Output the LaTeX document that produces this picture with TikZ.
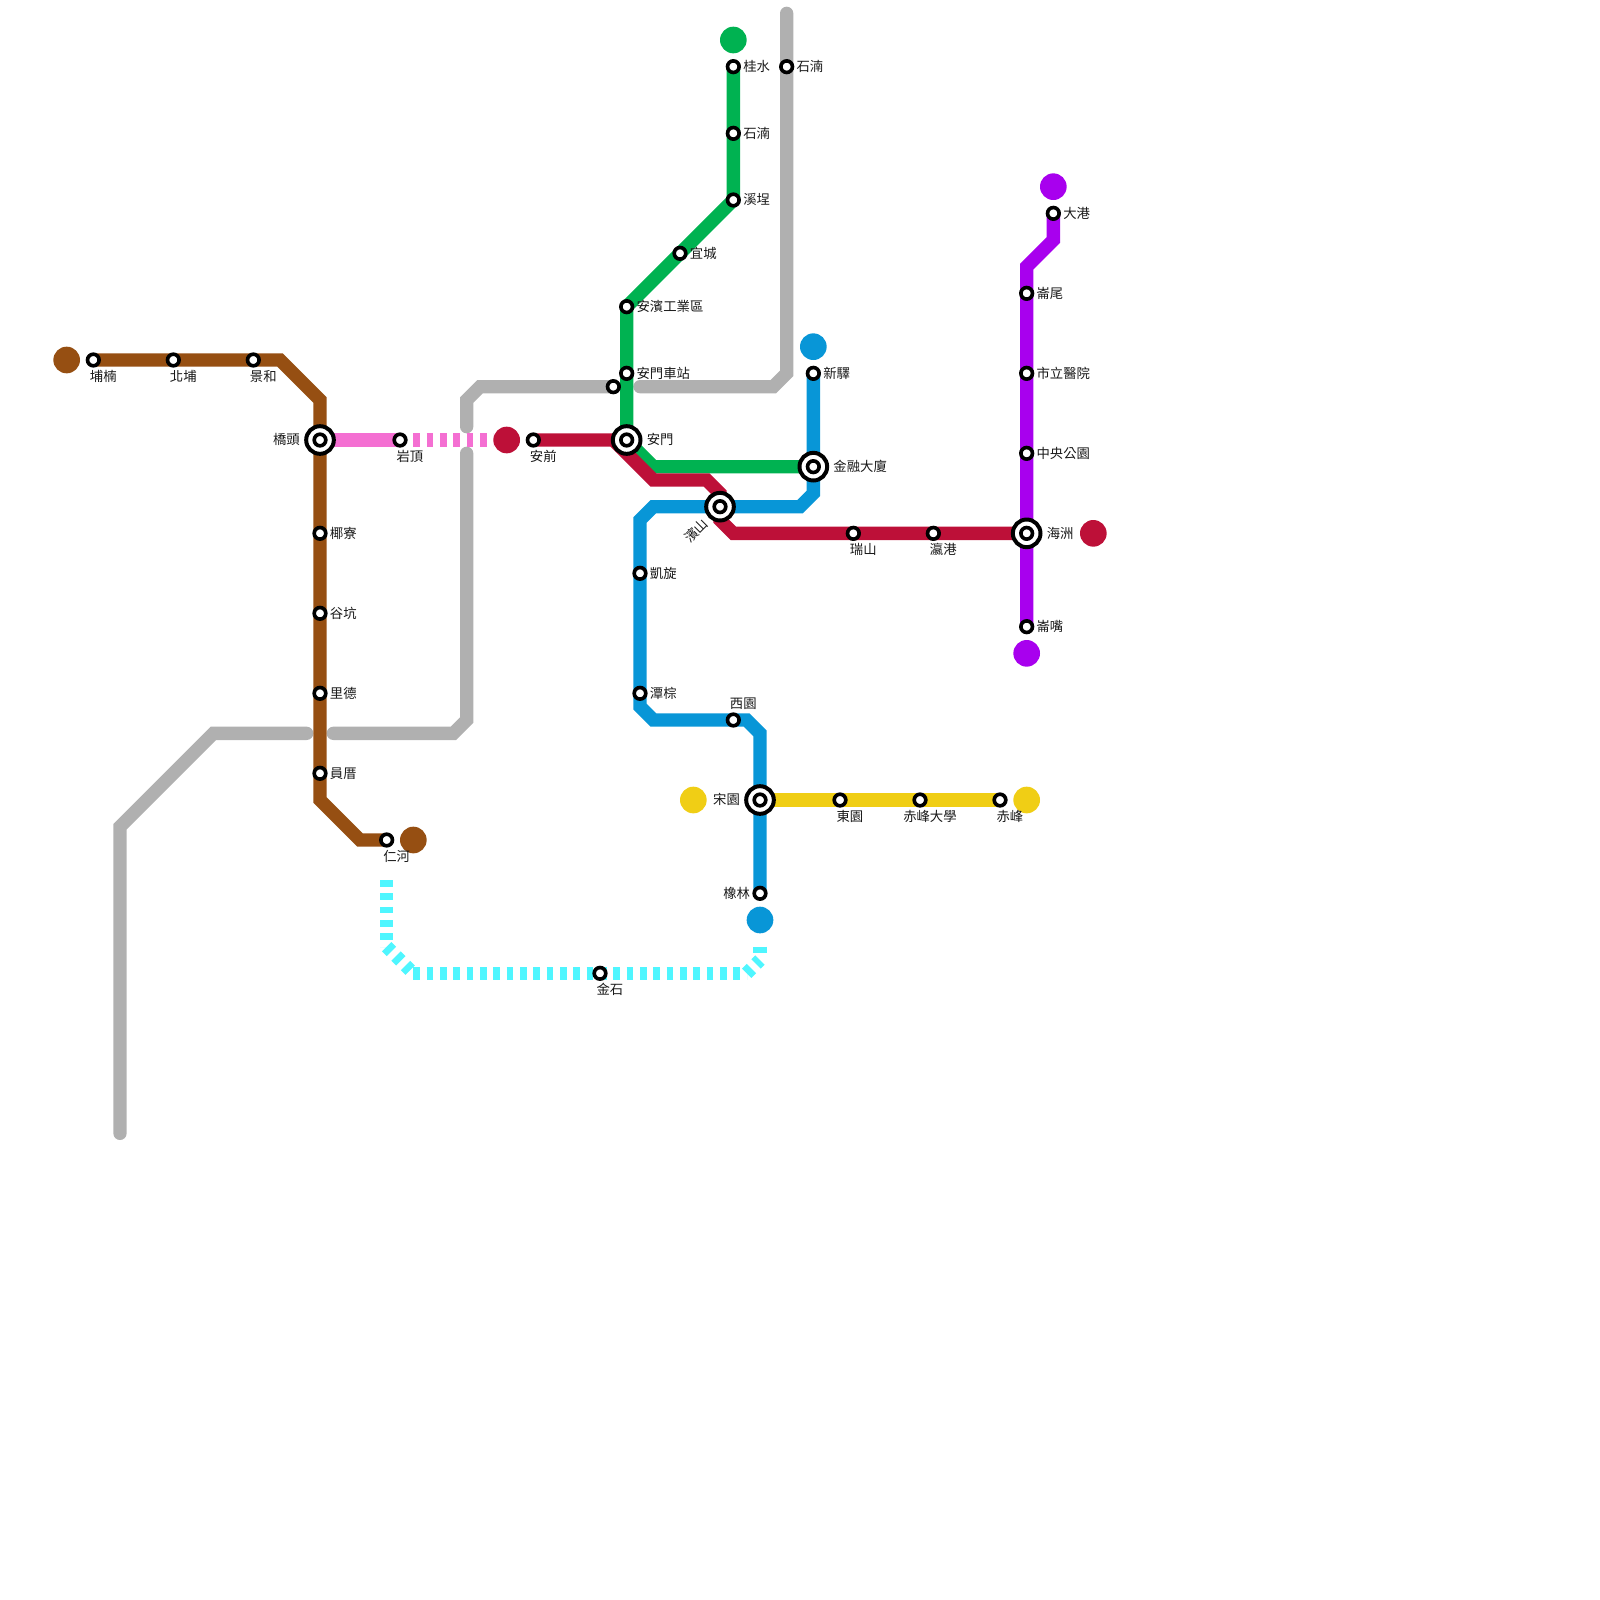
\documentclass[tikz,border=0pt]{standalone}
\usepackage{fontspec}
\setmainfont{Noto Sans CJK TC}
\usetikzlibrary{backgrounds}

\definecolor{brownline}{HTML}{964F12}
\definecolor{pinkline}{HTML}{F46FD2}
\definecolor{grayline}{HTML}{B0B0B0}
\definecolor{redline}{HTML}{BD1038}
\definecolor{greenline}{HTML}{00B251}
\definecolor{blueline}{HTML}{0896D7}
\definecolor{yellowline}{HTML}{F0CE15}
\definecolor{purpleline}{HTML}{A800EE}
\definecolor{cyanline}{HTML}{4FF6FF}

\tikzset{
  stlabel/.style={font=\fontsize{11.4pt}{12pt}\selectfont,text=black!90,inner sep=0pt,outer sep=0pt,text height=9.6pt,text depth=1.4pt},
  station/.style={circle,draw=black,fill=white,line width=3.1pt,minimum size=9.9pt,inner sep=0pt},
  xfer/.style={circle,draw=black,fill=white,line width=3.4pt,minimum size=23.6pt,inner sep=0pt,
    path picture={\draw[line width=3.1pt] (path picture bounding box.center) circle (4.95pt);}},
  termdot/.style={circle,fill=#1,minimum size=0.8cm,inner sep=0pt,outer sep=0pt},
  stright/.style={station,label={[stlabel,label distance=2pt]right:#1}},
  stleft/.style={station,label={[stlabel,label distance=2pt]left:#1}},
  stbelow/.style={station,label={[stlabel,xshift=8.5pt,yshift=-14pt]center:#1}},
  stabove/.style={station,label={[stlabel,xshift=8.5pt,yshift=14pt]center:#1}},
  xfright/.style={xfer,label={[stlabel,label distance=3.7pt]right:#1}},
  xfleft/.style={xfer,label={[stlabel,label distance=3.7pt]left:#1}},
  metro/.style={line width=0.4cm,line join=miter,color=#1},
  metrodash/.style={line width=0.4cm,color=#1,dash pattern=on 0.2cm off 0.2cm},
  metrogray/.style={line width=0.4cm,line join=miter,line cap=round,color=grayline}
}

\begin{document}
\begin{tikzpicture}[x=0.4cm,y=-0.4cm]
    \useasboundingbox (0,0) rectangle (120,120);

    % bends
    \coordinate (bw1) at (21,27);
    \coordinate (bw2) at (24,30);
    \coordinate (bw3) at (24,60);
    \coordinate (bw4) at (27,63);
    \coordinate (ga1) at (9,85);
    \coordinate (ga2) at (9,62);
    \coordinate (ga3) at (16,55);
    \coordinate (ga4) at (23,55);
    \coordinate (ga5) at (25,55);
    \coordinate (ga6) at (34,55);
    \coordinate (ga7) at (35,54);
    \coordinate (ga8) at (35,34);
    \coordinate (ga9) at (35,32);
    \coordinate (ga10) at (35,30);
    \coordinate (ga11) at (36,29);
    \coordinate (ga12) at (48,29);
    \coordinate (ga13) at (58,29);
    \coordinate (ga14) at (59,28);
    \coordinate (ga15) at (59,1);
    \coordinate (pk1) at (31,33);
    \coordinate (pk2) at (37,33);
    \coordinate (rd0) at (46,33);
    \coordinate (rd1) at (49,36);
    \coordinate (rd2) at (53,36);
    \coordinate (rd3) at (54,37);
    \coordinate (rd4) at (54,39);
    \coordinate (rd5) at (55,40);
    \coordinate (gr1) at (49,35);
    \coordinate (bl1) at (61,37);
    \coordinate (bl2) at (60,38);
    \coordinate (bl3) at (49,38);
    \coordinate (bl4) at (48,39);
    \coordinate (bl5) at (48,53);
    \coordinate (bl6) at (49,54);
    \coordinate (bl7) at (56,54);
    \coordinate (bl8) at (57,55);
    \coordinate (pu1) at (79,18);
    \coordinate (pu2) at (77,20);
    \coordinate (cy1) at (29,66);
    \coordinate (cy2) at (29,71);
    \coordinate (cy3) at (31,73);
    \coordinate (cy4) at (56,73);
    \coordinate (cy5) at (57,72);
    \coordinate (cy6) at (57,71);

    % terminals
    \node[termdot=brownline] (bwa) at (5,27) {};
    \node[termdot=brownline] (bwb) at (31,63) {};
    \node[termdot=redline] (rda) at (38,33) {};
    \node[termdot=redline] (rdb) at (82,40) {};
    \node[termdot=greenline] (gra) at (55,3) {};
    \node[termdot=blueline] (bla) at (61,26) {};
    \node[termdot=blueline] (blb) at (57,69) {};
    \node[termdot=yellowline] (yea) at (52,60) {};
    \node[termdot=yellowline] (yeb) at (77,60) {};
    \node[termdot=purpleline] (pua) at (79,14) {};
    \node[termdot=purpleline] (pub) at (77,49) {};

    % brown stations
    \node[stbelow=埔楠] (punan) at (7,27) {};
    \node[stbelow=北埔] (beipu) at (13,27) {};
    \node[stbelow=景和] (jinghe) at (19,27) {};
    \node[xfleft=橋頭] (qiaotou) at (24,33) {};
    \node[stright=椰寮] (yeliao) at (24,40) {};
    \node[stright=谷坑] (gukeng) at (24,46) {};
    \node[stright=里德] (lide) at (24,52) {};
    \node[stright=員厝] (yuancuo) at (24,58) {};
    \node[stbelow=仁河] (renhe) at (29,63) {};
    % pink station
    \node[stbelow=岩頂] (yanding) at (30,33) {};
    % red stations
    \node[stbelow=安前] (anqian) at (40,33) {};
    \node[xfright=安門] (anmen) at (47,33) {};
    \node[stbelow=瑞山] (ruishan) at (64,40) {};
    \node[stbelow=瀛港] (yinggang) at (70,40) {};
    \node[xfright=海洲] (haizhou) at (77,40) {};
    % green stations
    \node[stright=桂水] (guishui) at (55,5) {};
    \node[stright=石湳] (shinan) at (55,10) {};
    \node[stright=溪埕] (xicheng) at (55,15) {};
    \node[stright=宜城] (yicheng) at (51,19) {};
    \node[stright=安濱工業區] (anbin) at (47,23) {};
    \node[stright=安門車站] (anmenzhan) at (47,28) {};
    \node[xfright=金融大廈] (jinrong) at (61,35) {};
    % gray stations
    \node[stright=石湳] (shinanb) at (59,5) {};
    \node[station] (graystop) at (46,29) {};
    % blue stations
    \node[stright=新驛] (xinyi) at (61,28) {};
    \node[xfer] (binshan) at (54,38) {};
    \node[stlabel,rotate=45,anchor=east] (binshanlabel) at (52.95,39.1) {濱山};
    \node[stright=凱旋] (kaixuan) at (48,43) {};
    \node[stright=潭棕] (tanzong) at (48,52) {};
    \node[stabove=西園] (xiyuan) at (55,54) {};
    \node[xfleft=宋園] (songyuan) at (57,60) {};
    \node[stleft=橡林] (xianglin) at (57,67) {};
    % yellow stations
    \node[stbelow=東園] (dongyuan) at (63,60) {};
    \node[stbelow=赤峰大學] (chifengda) at (69,60) {};
    \node[stbelow=赤峰] (chifeng) at (75,60) {};
    % purple stations
    \node[stright=大港] (dagang) at (79,16) {};
    \node[stright=崙尾] (lunwei) at (77,22) {};
    \node[stright=市立醫院] (shili) at (77,28) {};
    \node[stright=中央公園] (zhongyang) at (77,34) {};
    \node[stright=崙嘴] (lunzui) at (77,47) {};
    % cyan station
    \node[stbelow=金石] (jinshi) at (45,73) {};

    \begin{pgfonlayer}{background}
        % gray line
        \draw[metrogray] (ga1) -- (ga2) -- (ga3) -- (ga4);
        \draw[metrogray] (ga5) -- (ga6) -- (ga7) -- (ga8);
        \draw[metrogray] (ga9) -- (ga10) -- (ga11) -- (graystop.center);
        \draw[metrogray] (ga12) -- (ga13) -- (ga14) -- (ga15);
        % cyan dashes
        \draw[metrodash=cyanline] (cy1) -- (cy2);
        \draw[metrodash=cyanline] (cy2) -- (cy3);
        \draw[metrodash=cyanline] (cy3) -- (cy4);
        \draw[metrodash=cyanline] (cy4) -- (cy5);
        \draw[metrodash=cyanline] (cy6) -- (cy5);
        % pink line
        \draw[metro=pinkline] (qiaotou.center) -- (yanding.center);
        \draw[metrodash=pinkline] (pk1) -- (pk2);
        % green line
        \draw[metro=greenline] (guishui.center) -- (xicheng.center) -- (anbin.center) -- (anmen.center) -- (gr1) -- (jinrong.center);
        % red line
        \draw[metro=redline] (anqian.center) -- (rd0) -- (rd1) -- (rd2) -- (rd3) -- (rd4) -- (rd5) -- (haizhou.center);
        % blue line
        \draw[metro=blueline] (xinyi.center) -- (bl1) -- (bl2) -- (bl3) -- (bl4) -- (bl5) -- (bl6) -- (bl7) -- (bl8) -- (xianglin.center);
        % brown line
        \draw[metro=brownline] (punan.center) -- (bw1) -- (bw2) -- (bw3) -- (bw4) -- (renhe.center);
        % yellow line
        \draw[metro=yellowline] (songyuan.center) -- (chifeng.center);
        % purple line
        \draw[metro=purpleline] (dagang.center) -- (pu1) -- (pu2) -- (lunzui.center);
    \end{pgfonlayer}
\end{tikzpicture}
\end{document}
